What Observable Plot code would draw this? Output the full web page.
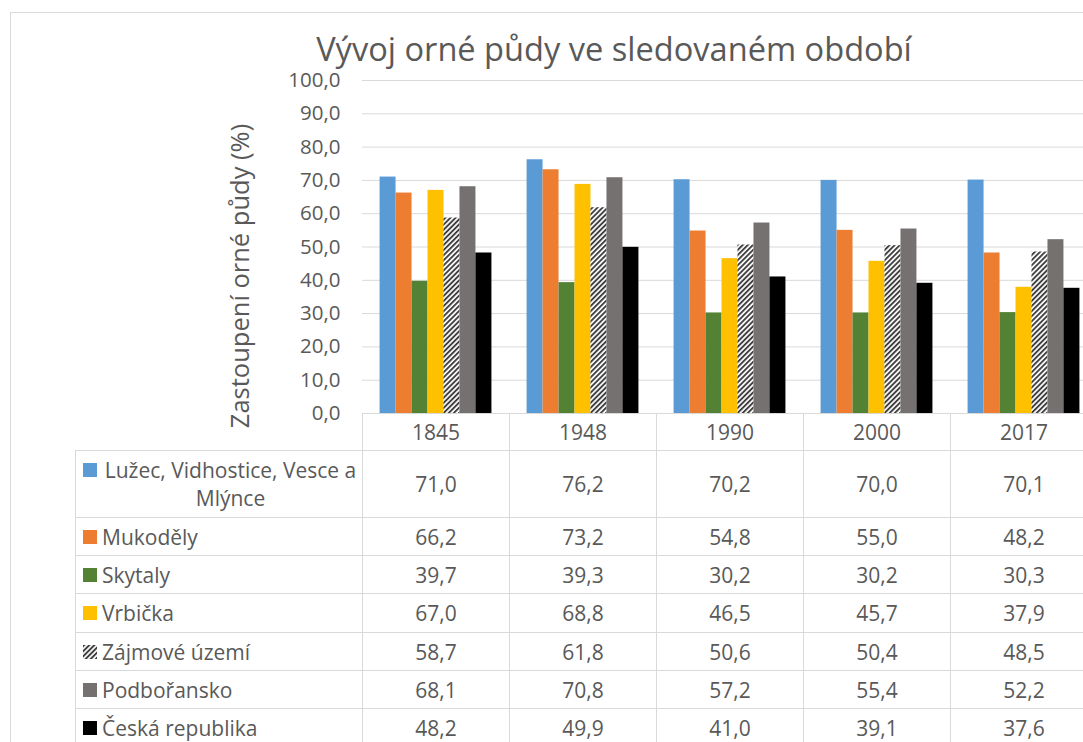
<!DOCTYPE html>
<html><head><meta charset="utf-8">
<script src="https://cdn.jsdelivr.net/npm/d3@7"></script>
<script src="https://cdn.jsdelivr.net/npm/@observablehq/plot@0.6"></script>
<style>
html,body{margin:0;padding:0;overflow:hidden;background:#fff;width:1083px;height:742px;}
body{position:relative;font-family:"Open Sans",sans-serif;color:#595959;}
#frame{position:absolute;left:10px;top:12px;width:1200px;height:800px;border:1px solid #d9d9d9;box-sizing:border-box;}
#title{position:absolute;left:614px;top:29px;transform:translateX(-50%);white-space:nowrap;font-size:32.6px;line-height:40px;}
#ylabel{position:absolute;left:239px;top:276px;transform:translate(-50%,-50%) rotate(-90deg);white-space:nowrap;font-size:25.5px;line-height:32px;}
#chart{position:absolute;left:0;top:0;width:1100px;}
#chart svg{max-width:none !important;}
#tbl{position:absolute;left:75px;top:413px;border-collapse:collapse;table-layout:fixed;font-size:21px;color:#595959;}
#tbl td,#tbl th{border:1px solid #d9d9d9;padding:0;font-weight:normal;vertical-align:middle;}
#tbl td.v,#tbl th.y{text-align:center;}
#tbl th.blank{border-top:none;border-left:none;}
.lab{display:flex;align-items:flex-start;padding-left:7px;padding-right:3px;line-height:28px;}
.key{flex:none;width:14px;height:14px;margin-top:7px;margin-right:5px;}
.txt{text-align:center;}
</style>
</head><body>
<div id="frame"></div>
<div id="chart"></div>
<div id="title"></div>
<div id="ylabel"></div>
<table id="tbl"></table>
<script>
const title = "Vývoj orné půdy ve sledovaném období";
const yLabel = "Zastoupení orné půdy (%)";
const years = ["1845", "1948", "1990", "2000", "2017"];
const series = ["Lužec, Vidhostice, Vesce a Mlýnce", "Mukoděly", "Skytaly", "Vrbička", "Zájmové území", "Podbořansko", "Česká republika"];
const luzec = [71.0, 76.2, 70.2, 70.0, 70.1];
const mukodely = [66.2, 73.2, 54.8, 55.0, 48.2];
const skytaly = [39.7, 39.3, 30.2, 30.2, 30.3];
const vrbicka = [67.0, 68.8, 46.5, 45.7, 37.9];
const zajmove = [58.7, 61.8, 50.6, 50.4, 48.5];
const podboransko = [68.1, 70.8, 57.2, 55.4, 52.2];
const ceskaRepublika = [48.2, 49.9, 41.0, 39.1, 37.6];
const yTicks = [0, 10, 20, 30, 40, 50, 60, 70, 80, 90, 100];
const colors = ["#5B9BD5", "#ED7D31", "#548235", "#FFC000", "url(#hatch)", "#767171", "#000000"];

const seriesValues = [luzec, mukodely, skytaly, vrbicka, zajmove, podboransko, ceskaRepublika];
const data = [];
series.forEach((s, i) => years.forEach((y, j) => data.push({series: s, year: y, value: seriesValues[i][j]})));
const fmt = d => d.toFixed(1).replace(".", ",");

document.getElementById("title").textContent = title;
document.getElementById("ylabel").textContent = yLabel;

const plot = Plot.plot({
  width: 1100, height: 440,
  marginLeft: 362, marginRight: 3, marginTop: 80, marginBottom: 27,
  style: {fontFamily: "Open Sans", fontSize: "20.5px", color: "#595959", background: "transparent", overflow: "visible", maxWidth: "none"},
  fx: {domain: years, padding: 0, axis: null},
  x: {domain: series, paddingInner: 0, paddingOuter: 1.1, axis: null, round: false},
  y: {domain: [0, 100], axis: null},
  color: {domain: series, range: colors},
  marks: [
    Plot.gridY(yTicks, {stroke: "#d9d9d9", strokeOpacity: 1, strokeWidth: 1}),
    Plot.axisY(yTicks, {tickSize: 0, tickPadding: 22, tickFormat: fmt, fill: "#595959", label: null, fontSize: 20.5}),
    Plot.barY(data, {fx: "year", x: "series", y: "value", fill: "series"})
  ]
});
const defs = d3.select(plot).insert("defs", ":first-child");
const pat = defs.append("pattern").attr("id", "hatch").attr("patternUnits", "userSpaceOnUse")
  .attr("width", 3.6).attr("height", 3.6).attr("patternTransform", "rotate(45)");
pat.append("rect").attr("width", 3.6).attr("height", 3.6).attr("fill", "#fff");
pat.append("rect").attr("width", 1.9).attr("height", 3.6).attr("fill", "#404040");
document.getElementById("chart").appendChild(plot);

// data table
const tbl = d3.select("#tbl");
const cg = tbl.append("colgroup");
cg.append("col").style("width", "287px");
years.forEach(() => cg.append("col").style("width", "147px"));
tbl.style("width", (287 + 147 * years.length) + "px");
const hr = tbl.append("tr").style("height", "37px");
hr.append("th").attr("class", "blank");
years.forEach(y => hr.append("th").attr("class", "y").text(y));
const rowH = [67, 38, 38, 39, 38, 38, 38];
series.forEach((s, i) => {
  const tr = tbl.append("tr").style("height", rowH[i] + "px");
  const lab = tr.append("td").append("div").attr("class", "lab");
  const key = lab.append("svg").attr("class", "key").attr("width", 14).attr("height", 14);
  key.append("rect").attr("width", 14).attr("height", 14).attr("fill", colors[i]);
  lab.append("span").attr("class", "txt").text(s);
  seriesValues[i].forEach(v => tr.append("td").attr("class", "v").text(fmt(v)));
});
</script>
</body></html>
